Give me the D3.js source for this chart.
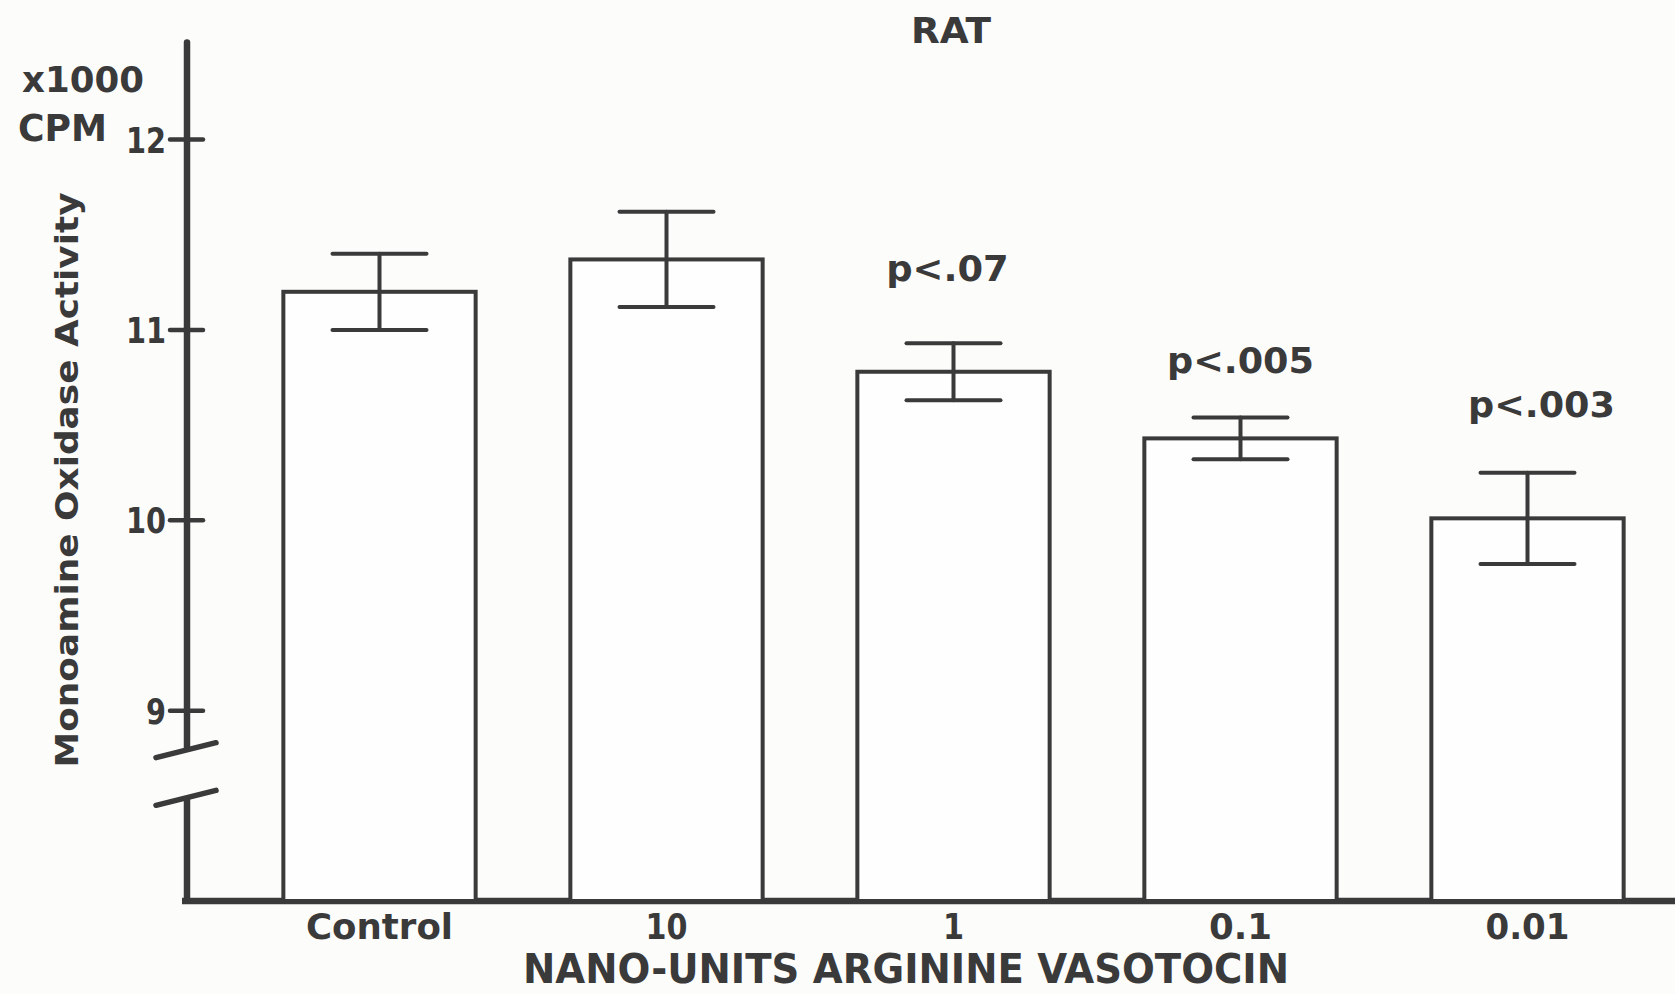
<!DOCTYPE html>
<html><head><meta charset="utf-8">
<script src="https://cdn.jsdelivr.net/npm/d3@7"></script>
<style>body{margin:0;background:#fcfcfa;} svg{display:block}</style>
</head><body><svg id="c" width="1675" height="994"></svg>
<script>
// ---- data ----
const categories = ["Control", "10", "1", "0.1", "0.01"];
const means = [11.20, 11.37, 10.78, 10.43, 10.01];
const errors = [0.20, 0.25, 0.15, 0.11, 0.24];
const pLabels = ["", "", "p<.07", "p<.005", "p<.003"];
const yTicks = [9, 10, 11, 12];
const yTickLabels = ["9", "10", "11", "12"];
const title = "RAT";
const yTitle = "Monoamine Oxidase Activity";
const xTitle = "NANO-UNITS ARGININE VASOTOCIN";
const unitLines = ["x1000", "CPM"];

// ---- label placement tweaks (style, px) ----
const pLabelGap = [0, 0, 62, 44, 56];
const pLabelShift = [0, 0, -6, 0, 14];

// ---- drawing ----
const ink = "#3a3a3a";
const font = "'DejaVu Sans Condensed', 'DejaVu Sans', sans-serif";
const svg = d3.select("#c");
svg.append("rect").attr("width", 1675).attr("height", 994).attr("fill", "#fcfcfa");

const y = d3.scaleLinear().domain([8, 12]).range([901, 139.5]);
const x = d3.scaleBand().domain(categories).range([236, 1671]).paddingInner(0.33).paddingOuter(0.165);
const axisX = 187;
const yTop = 12.51, breakHi = 8.8, breakLo = 8.55;

// y axis (broken)
svg.append("line").attr("x1", axisX).attr("x2", axisX).attr("y1", y(yTop)).attr("y2", y(breakHi))
  .attr("stroke", ink).attr("stroke-width", 6.5).attr("stroke-linecap", "round");
svg.append("line").attr("x1", axisX).attr("x2", axisX).attr("y1", y(breakLo)).attr("y2", y(8))
  .attr("stroke", ink).attr("stroke-width", 6.5);
// break marks
[breakHi, breakLo].forEach(v => {
  svg.append("line").attr("x1", axisX - 31).attr("x2", axisX + 29)
    .attr("y1", y(v) + 9).attr("y2", y(v) - 6)
    .attr("stroke", ink).attr("stroke-width", 5.5).attr("stroke-linecap", "round");
});
// baseline
svg.append("line").attr("x1", 182).attr("x2", 1675).attr("y1", y(8)).attr("y2", y(8))
  .attr("stroke", ink).attr("stroke-width", 6.5);

// ticks
const tg = svg.append("g");
tg.selectAll("line").data(yTicks).join("line")
  .attr("x1", axisX - 17).attr("x2", axisX + 16)
  .attr("y1", d => y(d)).attr("y2", d => y(d))
  .attr("stroke", ink).attr("stroke-width", 4.5).attr("stroke-linecap", "round");
tg.selectAll("text").data(yTicks).join("text")
  .attr("x", axisX - 21).attr("y", d => y(d) + 13)
  .attr("text-anchor", "end").attr("font-family", font).attr("font-weight", "bold")
  .attr("font-size", 36).attr("fill", ink)
  .attr("textLength", (d, i) => yTickLabels[i].length * 20).attr("lengthAdjust", "spacingAndGlyphs")
  .text((d, i) => yTickLabels[i]);

// bars
const bw = x.bandwidth();
svg.append("g").selectAll("rect").data(categories).join("rect")
  .attr("x", d => x(d)).attr("width", bw)
  .attr("y", (d, i) => y(means[i])).attr("height", (d, i) => y(8) - y(means[i]))
  .attr("fill", "#fefefe").attr("stroke", ink).attr("stroke-width", 4);

// error bars
const eg = svg.append("g").attr("stroke", ink).attr("stroke-width", 4).attr("stroke-linecap", "round");
const capHalf = 47;
categories.forEach((c, i) => {
  const cx = x(c) + bw / 2;
  const hi = y(means[i] + errors[i]), lo = y(means[i] - errors[i]);
  eg.append("line").attr("x1", cx).attr("x2", cx).attr("y1", hi).attr("y2", lo);
  eg.append("line").attr("x1", cx - capHalf).attr("x2", cx + capHalf).attr("y1", hi).attr("y2", hi);
  eg.append("line").attr("x1", cx - capHalf).attr("x2", cx + capHalf).attr("y1", lo).attr("y2", lo);
});

// p labels
categories.forEach((c, i) => {
  if (!pLabels[i]) return;
  svg.append("text")
    .attr("x", x(c) + bw / 2 + pLabelShift[i])
    .attr("y", y(means[i] + errors[i]) - pLabelGap[i])
    .attr("text-anchor", "middle").attr("font-family", font).attr("font-weight", "bold")
    .attr("font-size", 36).attr("fill", ink)
    .attr("textLength", pLabels[i].length * 24.5).attr("lengthAdjust", "spacingAndGlyphs")
    .text(pLabels[i]);
});

// category labels
svg.append("g").selectAll("text").data(categories).join("text")
  .attr("x", d => x(d) + bw / 2).attr("y", 939)
  .attr("text-anchor", "middle").attr("font-family", font).attr("font-weight", "bold")
  .attr("font-size", 36).attr("fill", ink)
  .attr("textLength", d => d.length * 21).attr("lengthAdjust", "spacingAndGlyphs")
  .text(d => d);

// titles
svg.append("text").attr("x", 951).attr("y", 43).attr("text-anchor", "middle")
  .attr("font-family", font).attr("font-weight", "bold").attr("font-size", 35).attr("fill", ink)
  .attr("textLength", 80).attr("lengthAdjust", "spacingAndGlyphs").text(title);
svg.append("text").attr("x", 906).attr("y", 983).attr("text-anchor", "middle")
  .attr("font-family", font).attr("font-weight", "bold").attr("font-size", 40).attr("fill", ink)
  .attr("textLength", 766).attr("lengthAdjust", "spacingAndGlyphs").text(xTitle);
svg.append("text").attr("transform", "translate(78,480) rotate(-90)").attr("text-anchor", "middle")
  .attr("font-family", "'DejaVu Sans', sans-serif").attr("font-weight", "bold").attr("font-size", 32).attr("fill", ink)
  .attr("textLength", 575).attr("lengthAdjust", "spacingAndGlyphs").text(yTitle);
svg.append("text").attr("x", 22).attr("y", 92)
  .attr("font-family", "'DejaVu Sans', sans-serif").attr("font-weight", "bold").attr("font-size", 36).attr("fill", ink)
  .attr("textLength", 122).attr("lengthAdjust", "spacingAndGlyphs").text(unitLines[0]);
svg.append("text").attr("x", 18).attr("y", 141)
  .attr("font-family", "'DejaVu Sans', sans-serif").attr("font-weight", "bold").attr("font-size", 38).attr("fill", ink)
  .attr("textLength", 89).attr("lengthAdjust", "spacingAndGlyphs").text(unitLines[1]);
</script>
</body></html>
